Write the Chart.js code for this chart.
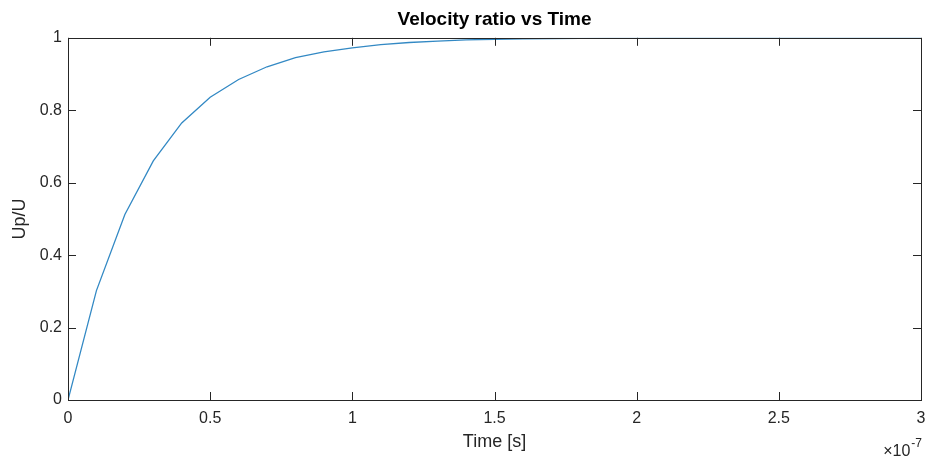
<!DOCTYPE html>
<html>
<head>
<meta charset="utf-8">
<title>Velocity ratio vs Time</title>
<script src="https://cdn.jsdelivr.net/npm/chart.js@4/dist/chart.umd.min.js"></script>
<style>
    html, body { margin: 0; padding: 0; background: #fff; overflow: hidden; }
    #wrap { width: 928px; height: 457px; position: relative; }
    #velocity-chart { display: block; }
</style>
</head>
<body>
<div id="wrap"><canvas id="velocity-chart"></canvas></div>
<script>
// time in units of 1e-7 s
const timeE7 = [0, 0.1, 0.2, 0.3, 0.4, 0.5, 0.6, 0.7, 0.8, 0.9, 1.0,
    1.1, 1.2, 1.3, 1.4, 1.5, 1.6, 1.7, 1.8, 1.9, 2.0,
    2.1, 2.2, 2.3, 2.4, 2.5, 2.6, 2.7, 2.8, 2.9, 3.0];
// Up/U
const velocityRatio = [0, 0.302, 0.512, 0.660, 0.765, 0.836, 0.885, 0.920, 0.945, 0.961, 0.972,
    0.981, 0.987, 0.991, 0.994, 0.996, 0.997, 0.998, 0.9985, 0.999, 0.9993,
    0.9995, 0.9996, 0.9997, 0.9998, 0.9998, 0.9999, 0.9999, 0.9999, 1.0, 1.0];
const xTicks = [0, 0.5, 1, 1.5, 2, 2.5, 3];
const yTicks = [0, 0.2, 0.4, 0.6, 0.8, 1];

const axisColor = '#262626';
const fontFamily = '"Liberation Sans", Arial, sans-serif';

// box around the axes with inward ticks on all four sides, plus the x exponent
const boxAxes = {
    id: 'boxAxes',
    afterDraw(chart) {
        const { ctx, chartArea: a, scales } = chart;
        const len = 8;
        ctx.save();
        ctx.strokeStyle = axisColor;
        ctx.lineWidth = 1;
        ctx.strokeRect(Math.round(a.left) + 0.5, Math.round(a.top) + 0.5,
            Math.round(a.right - a.left), Math.round(a.bottom - a.top));
        ctx.beginPath();
        xTicks.forEach(v => {
            const x = Math.round(scales.x.getPixelForValue(v)) + 0.5;
            ctx.moveTo(x, a.bottom); ctx.lineTo(x, a.bottom - len);
            ctx.moveTo(x, a.top); ctx.lineTo(x, a.top + len);
        });
        yTicks.forEach(v => {
            const y = Math.round(scales.y.getPixelForValue(v)) + 0.5;
            ctx.moveTo(a.left, y); ctx.lineTo(a.left + len, y);
            ctx.moveTo(a.right, y); ctx.lineTo(a.right - len, y);
        });
        ctx.stroke();

        ctx.fillStyle = axisColor;
        ctx.textBaseline = 'alphabetic';
        ctx.textAlign = 'right';
        ctx.font = '12px ' + fontFamily;
        ctx.fillText('-7', a.right + 1, 447);
        const expW = ctx.measureText('-7').width;
        ctx.font = '16px ' + fontFamily;
        ctx.fillText('\u00d710', a.right - expW, 456);
        ctx.restore();
    }
};

new Chart(document.getElementById('velocity-chart').getContext('2d'), {
    type: 'line',
    data: {
        datasets: [{
            label: 'Up/U',
            data: timeE7.map((t, i) => ({ x: t, y: velocityRatio[i] })),
            borderColor: '#3389c4',
            borderWidth: 1.3,
            pointRadius: 0,
            tension: 0,
            fill: false
        }]
    },
    options: {
        responsive: true,
        maintainAspectRatio: false,
        animation: false,
        layout: { padding: { top: 0, right: 7, left: 0, bottom: 0 } },
        plugins: {
            legend: { display: false },
            tooltip: { enabled: false },
            title: {
                display: true,
                fullSize: false,
                text: 'Velocity ratio vs Time',
                color: '#000',
                font: { family: fontFamily, size: 19, weight: 'bold' },
                padding: { top: 8, bottom: 7 }
            }
        },
        scales: {
            x: {
                type: 'linear',
                min: 0,
                max: 3,
                afterBuildTicks(scale) { scale.ticks = xTicks.map(v => ({ value: v })); },
                afterFit(scale) {
                    scale.height = 57;
                    scale.paddingLeft = 0;
                    scale.paddingRight = 0;
                },
                grid: { display: false, drawTicks: false },
                border: { display: false },
                ticks: {
                    color: axisColor,
                    padding: 9,
                    font: { family: fontFamily, size: 16 },
                    callback: v => String(v)
                },
                title: {
                    display: true,
                    text: 'Time [s]',
                    color: axisColor,
                    font: { family: fontFamily, size: 18 },
                    padding: { top: 0 }
                }
            },
            y: {
                min: 0,
                max: 1,
                afterBuildTicks(scale) { scale.ticks = yTicks.map(v => ({ value: v })); },
                afterFit(scale) {
                    scale.width = 68;
                    scale.paddingTop = 0;
                    scale.paddingBottom = 0;
                },
                grid: { display: false, drawTicks: false },
                border: { display: false },
                ticks: {
                    color: axisColor,
                    padding: 6,
                    font: { family: fontFamily, size: 16 },
                    callback: v => String(v)
                },
                title: {
                    display: true,
                    text: 'Up/U',
                    color: axisColor,
                    font: { family: fontFamily, size: 18 },
                    padding: { top: 9, bottom: 0 }
                }
            }
        }
    },
    plugins: [boxAxes]
});
</script>
</body>
</html>
